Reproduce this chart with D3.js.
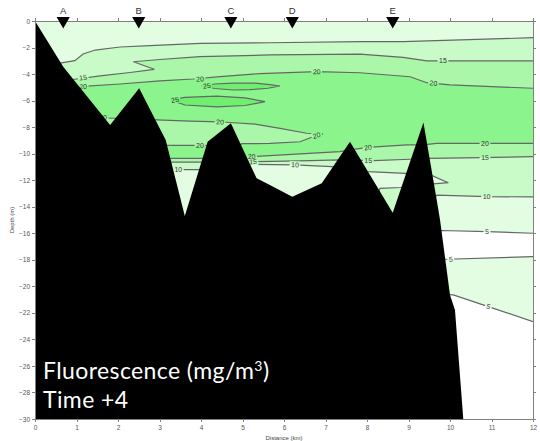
<!DOCTYPE html>
<html>
<head>
<meta charset="utf-8">
<title>Fluorescence transect, Time +4</title>
<script src="https://cdn.jsdelivr.net/npm/d3@7"></script>
<style>
    body {
        margin: 0;
        background: #fff;
    }

    .axis path,
    .axis line {
        stroke: #808080;
        shape-rendering: crispEdges;
    }

    .axis text {
        font-family: "Liberation Sans", Arial, sans-serif;
        font-size: 6.5px;
        fill: #555;
    }

    .contour {
        fill: none;
        stroke: #666;
        stroke-width: 1.2;
    }

    .clabel {
        font-family: "Liberation Sans", Arial, sans-serif;
        font-size: 7px;
        fill: #333;
    }

    .station {
        font-family: "Liberation Sans", Arial, sans-serif;
        font-size: 9.5px;
        fill: #333;
    }

    .atitle {
        font-family: "Liberation Sans", Arial, sans-serif;
        font-size: 6px;
        fill: #444;
    }

    .title {
        font-family: Lato, "Open Sans", sans-serif;
        font-size: 23px;
        letter-spacing: 0.4px;
        fill: #fff;
    }
</style>
</head>
<body>
<svg id="chart" width="540" height="441"></svg>
<script>
    // sampling stations along the transect (km)
    var stations = ["A", "B", "C", "D", "E"];
    var stationKm = [0.68, 2.50, 4.72, 6.20, 8.62];

    // contour levels (mg/m3)
    var levels = [5, 10, 15, 20, 25];

    // sea floor profile [km, depth m]
    var seabed = [[0, 0], [0.68, -3.44], [1.81, -7.84], [2.51, -5.07], [3.15, -8.97], [3.61, -14.69],
        [4.16, -9.10], [4.72, -7.71], [5.34, -11.85], [5.66, -12.36], [6.20, -13.24], [6.91, -12.23],
        [7.59, -9.10], [8.62, -14.45], [9.36, -7.66], [9.68, -13.49], [9.76, -15.0], [10.0, -20.65],
        [10.12, -21.78], [10.32, -30]];

    // contour lines [km, depth m] (parts run under the sea floor)
    var line10top = [[0, -3.39], [0.60, -3.17], [0.96, -2.99], [1.16, -2.49], [1.45, -2.19], [2.05, -1.96],
        [2.77, -1.85], [3.98, -1.68], [5.66, -1.64], [7.83, -1.56], [8.87, -1.56], [12, -1.26]];

    var line15top = [[0, -4.60], [0.80, -4.45], [0.96, -4.39], [1.57, -4.14], [2.29, -3.88], [2.875, -3.64],
        [2.37, -3.07], [3.01, -2.90], [3.98, -2.69], [5.66, -2.56], [7.83, -2.49], [8.87, -2.74],
        [9.44, -3.01], [12, -3.01]];

    var line20top = [[0, -5.20], [1.06, -4.95], [2.05, -4.75], [3.01, -4.52], [3.81, -4.37], [4.46, -4.20],
        [5.42, -3.96], [6.79, -3.82], [7.83, -3.90], [9.04, -4.20], [9.44, -4.65], [10.0, -4.82], [12, -5.07]];

    var lobe20 = [[0, -7.31], [1.663, -7.31], [1.928, -7.33], [2.53, -7.42], [2.933, -7.46], [3.735, -7.54],
        [4.458, -7.61], [4.699, -7.65], [5.301, -7.78], [5.904, -8.09], [6.547, -8.46], [6.94, -8.52],
        [6.667, -8.76], [6.386, -9.10], [5.663, -9.23], [4.988, -9.25], [4.699, -9.72], [4.096, -9.37],
        [3.173, -9.37], [2.771, -9.72], [0, -9.72], [0, -7.31]];

    var line20low = [[0, -10.47], [2.771, -10.47], [3.173, -10.36], [4.096, -10.36], [4.699, -10.32],
        [5.342, -10.21], [6.386, -10.02], [7.349, -9.85], [7.59, -9.72], [8.024, -9.52], [8.957, -9.34],
        [9.349, -9.34], [9.68, -9.23], [10.723, -9.22], [12, -9.22]];

    var line15low = [[0, -10.85], [2.771, -10.85], [3.173, -10.63], [4.096, -10.63], [4.699, -10.63],
        [5.342, -10.60], [6.386, -10.55], [7.349, -10.47], [8.152, -10.53], [9.036, -10.42], [9.518, -10.35],
        [10.723, -10.30], [12, -10.23]];

    var line10low = [[0, -11.38], [2.771, -11.30], [3.333, -11.21], [3.952, -11.21], [4.578, -11.08],
        [5.205, -10.81], [6.241, -10.85], [7.149, -10.98], [7.59, -11.23], [8.024, -11.36], [8.94, -11.48],
        [9.349, -11.60], [9.581, -11.68], [9.959, -12.19], [9.598, -12.28], [9.277, -12.43], [8.819, -12.55],
        [8.313, -12.61], [8.193, -13.49], [8.602, -15.75], [9.398, -13.87], [9.687, -13.13], [10.892, -13.24],
        [12, -13.26]];

    var ring25a = [[4.00, -4.90], [4.337, -4.75], [4.771, -4.69], [5.301, -4.69], [5.663, -4.79], [5.904, -4.90],
        [5.614, -5.07], [5.181, -5.18], [4.771, -5.20], [4.337, -5.09], [4.00, -4.90]];

    var ring25b = [[3.253, -5.95], [3.614, -5.76], [4.378, -5.67], [5.060, -5.79], [5.542, -6.08],
        [5.060, -6.37], [4.378, -6.48], [3.614, -6.33], [3.253, -5.95]];

    var line5a = [[6.386, -16.13], [9.783, -15.79], [10.892, -15.88], [12, -16.0]];
    var line5b = [[6.386, -18.16], [9.92, -17.96], [12, -17.76]];
    var line5c = [[6.386, -20.27], [10.08, -20.65], [10.923, -21.53], [12, -22.66]];

    // contour labels [km, depth m, text]
    var labels = [[1.16, -4.27, "15"], [1.16, -4.95, "20"], [3.976, -4.37, "20"], [6.788, -3.82, "20"],
        [9.60, -4.69, "20"], [9.83, -3.01, "15"], [4.14, -4.88, "25"], [3.373, -5.95, "25"],
        [1.64, -7.31, "20"], [4.458, -7.61, "20"], [6.788, -8.63, "20"], [3.976, -9.37, "20"],
        [5.22, -10.21, "20"], [8.024, -9.54, "20"], [10.843, -9.22, "20"],
        [5.253, -10.60, "15"], [8.031, -10.51, "15"], [10.843, -10.29, "15"],
        [3.453, -11.21, "10"], [6.265, -10.84, "10"], [10.884, -13.24, "10"],
        [10.892, -15.88, "5"], [10.02, -17.96, "5"], [10.923, -21.53, "5"]];

    var xTicks = d3.range(0, 13, 1);
    var yTicks = d3.range(0, -31, -2);

    var svg = d3.select("#chart");

    var x = d3.scaleLinear().domain([0, 12]).range([35, 533]);
    var y = d3.scaleLinear().domain([0, -30]).range([21, 419]);

    var color = d3.scaleThreshold()
        .domain(levels)
        .range(["#ffffff", "#e2fde2", "#c8fbc8", "#aaf7aa", "#8cf48c", "#6fef6f"]);

    var line = d3.line()
        .x(function(d) { return x(d[0]); })
        .y(function(d) { return y(d[1]); });

    function band(top, bot) {
        return line(top.concat(bot.slice().reverse())) + "Z";
    }

    var defs = svg.append("defs");
    defs.append("clipPath").attr("id", "plot")
        .append("rect")
        .attr("x", x(0)).attr("y", y(0))
        .attr("width", x(12) - x(0)).attr("height", y(-30) - y(0));

    var mask = defs.append("mask").attr("id", "gaps")
        .attr("maskUnits", "userSpaceOnUse")
        .attr("x", 0).attr("y", 0).attr("width", 540).attr("height", 441);
    mask.append("rect").attr("width", 540).attr("height", 441).attr("fill", "#fff");

    var plot = svg.append("g").attr("clip-path", "url(#plot)");

    // filled bands
    plot.append("rect")
        .attr("x", x(0)).attr("y", y(0))
        .attr("width", x(12) - x(0)).attr("height", y(-30) - y(0))
        .attr("fill", color(5));
    plot.append("path").attr("d", band(line10top, line10low)).attr("fill", color(10));
    plot.append("path").attr("d", band(line15top, line15low)).attr("fill", color(15));
    plot.append("path").attr("d", band(line20top, line20low)).attr("fill", color(20));
    plot.append("path").attr("d", line(lobe20) + "Z").attr("fill", color(15));
    plot.append("path").attr("d", line(ring25a) + "Z").attr("fill", color(25));
    plot.append("path").attr("d", line(ring25b) + "Z").attr("fill", color(25));
    plot.append("path").attr("d", band(line5a, line5b)).attr("fill", color(0));
    plot.append("path")
        .attr("d", band(line5c, [[line5c[0][0], -30], [12, -30]]))
        .attr("fill", color(0));

    // contour lines
    var contourLines = [line10top, line15top, line20top, lobe20, line20low, line15low, line10low,
        ring25a, ring25b, line5a, line5b, line5c];

    plot.append("g")
        .attr("mask", "url(#gaps)")
        .selectAll("path")
        .data(contourLines)
        .enter().append("path")
        .attr("class", "contour")
        .attr("d", line);

    // label angle from the nearest contour segment
    function labelAngle(d) {
        var px = x(d[0]), py = y(d[1]), best = Infinity, ang = 0;
        contourLines.forEach(function(pts) {
            for (var i = 0; i < pts.length - 1; i++) {
                var ax = x(pts[i][0]), ay = y(pts[i][1]), bx = x(pts[i + 1][0]), by = y(pts[i + 1][1]);
                var dx = bx - ax, dy = by - ay, len = dx * dx + dy * dy;
                var t = len ? Math.max(0, Math.min(1, ((px - ax) * dx + (py - ay) * dy) / len)) : 0;
                var ex = ax + t * dx - px, ey = ay + t * dy - py, dist = ex * ex + ey * ey;
                if (dist < best) {
                    best = dist;
                    ang = Math.atan2(dy, dx) * 180 / Math.PI;
                }
            }
        });
        if (ang > 90) ang -= 180;
        if (ang < -90) ang += 180;
        return ang;
    }

    var labelText = plot.append("g").selectAll("text")
        .data(labels)
        .enter().append("text")
        .attr("class", "clabel")
        .attr("text-anchor", "middle")
        .attr("dy", "0.35em")
        .attr("transform", function(d) {
            return "translate(" + x(d[0]) + "," + y(d[1]) + ") rotate(" + labelAngle(d) + ")";
        })
        .text(function(d) { return d[2]; });

    labelText.each(function(d) {
        var w = this.getComputedTextLength() + 3;
        mask.append("rect")
            .attr("x", -w / 2).attr("y", -3.5)
            .attr("width", w).attr("height", 7)
            .attr("fill", "#000")
            .attr("transform", d3.select(this).attr("transform"));
    });

    // sea floor
    plot.append("path")
        .attr("d", line(seabed.concat([[0, -30]])) + "Z")
        .attr("fill", "#000");

    // axes
    svg.append("g").attr("class", "axis")
        .attr("transform", "translate(0," + y(-30) + ")")
        .call(d3.axisBottom(x).tickValues(xTicks).tickSize(3).tickPadding(3).tickFormat(d3.format("d")));

    svg.append("g").attr("class", "axis")
        .attr("transform", "translate(0," + y(0) + ")")
        .call(d3.axisTop(x).tickValues(xTicks).tickSize(3).tickFormat(""));

    svg.append("g").attr("class", "axis")
        .attr("transform", "translate(" + x(0) + ",0)")
        .call(d3.axisLeft(y).tickValues(yTicks).tickSize(3).tickPadding(2).tickFormat(d3.format("d")));

    svg.append("g").attr("class", "axis")
        .attr("transform", "translate(" + x(12) + ",0)")
        .call(d3.axisRight(y).tickValues(yTicks).tickSize(3).tickFormat(""));

    svg.selectAll(".axis .domain").attr("stroke", "#808080");

    svg.append("text")
        .attr("class", "atitle")
        .attr("text-anchor", "middle")
        .attr("x", (x(0) + x(12)) / 2)
        .attr("y", 440)
        .text("Distance (km)");

    svg.append("text")
        .attr("class", "atitle")
        .attr("text-anchor", "middle")
        .attr("transform", "translate(14," + (y(0) + y(-30)) / 2 + ") rotate(-90)")
        .text("Depth (m)");

    // station markers
    var st = svg.append("g").selectAll("g")
        .data(stations)
        .enter().append("g")
        .attr("transform", function(d, i) { return "translate(" + x(stationKm[i]) + ",0)"; });

    st.append("path")
        .attr("d", d3.symbol(d3.symbolTriangle, 75))
        .attr("transform", "translate(0,20.8) rotate(180)")
        .attr("fill", "#000");

    st.append("text")
        .attr("class", "station")
        .attr("text-anchor", "middle")
        .attr("y", 14)
        .text(function(d) { return d; });

    // title over the sea floor
    var title = svg.append("text")
        .attr("class", "title")
        .attr("x", 43)
        .attr("y", 379);
    title.append("tspan").text("Fluorescence (mg/m");
    title.append("tspan").attr("dy", -8).attr("font-size", "14px").text("3");
    title.append("tspan").attr("dy", 8).text(")");

    svg.append("text")
        .attr("class", "title")
        .attr("x", 43)
        .attr("y", 408)
        .text("Time +4");
</script>
</body>
</html>
